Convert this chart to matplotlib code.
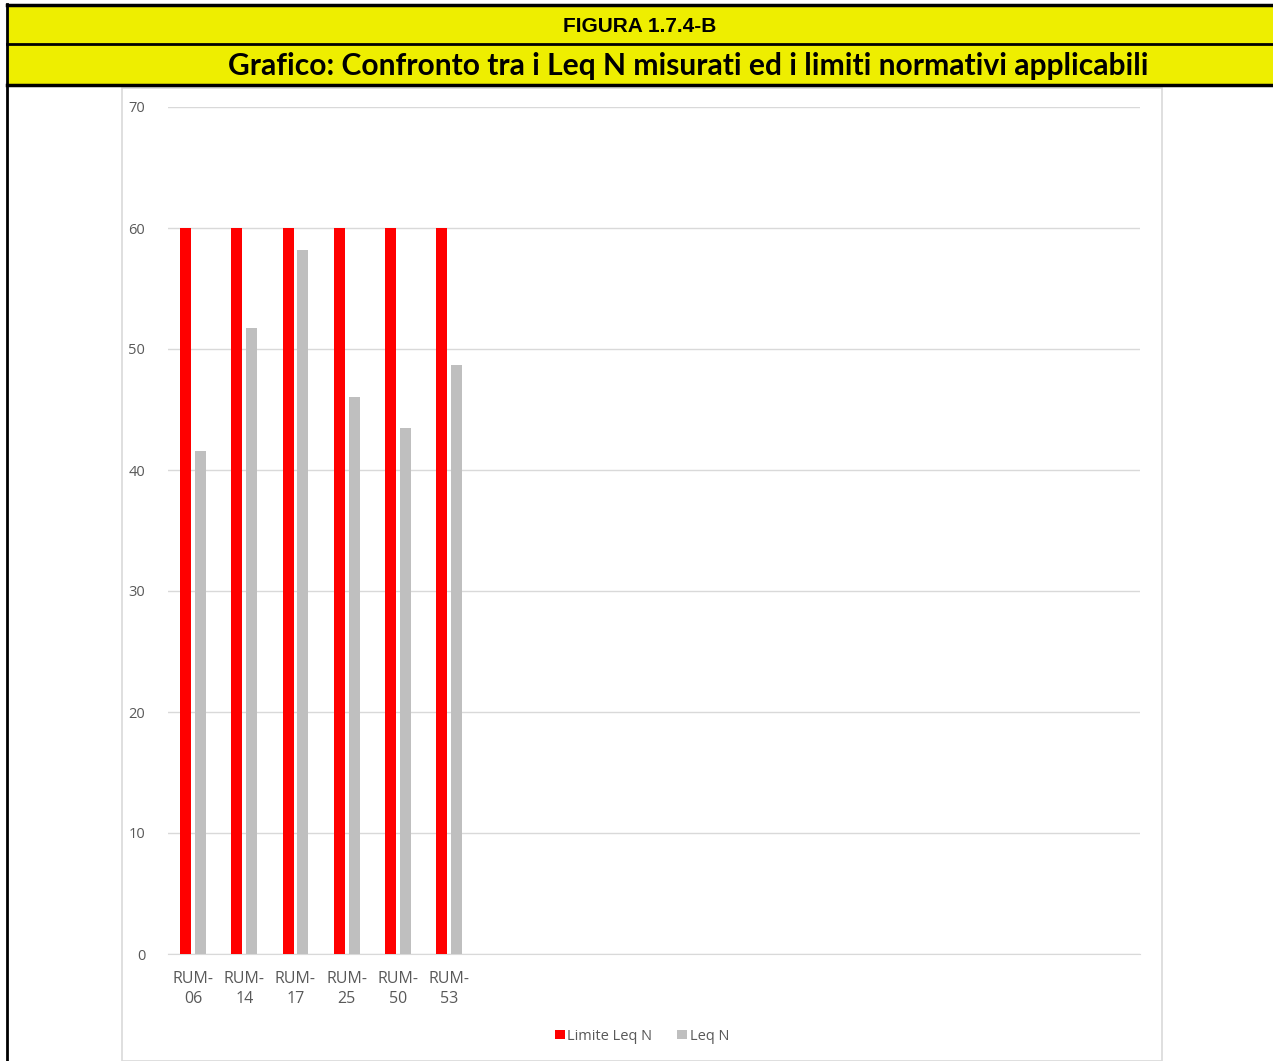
import matplotlib.pyplot as plt
from matplotlib.patches import Rectangle
from matplotlib.lines import Line2D
import numpy as np

# dati
stazioni = ['RUM-\n06', 'RUM-\n14', 'RUM-\n17', 'RUM-\n25', 'RUM-\n50', 'RUM-\n53']
limite_leq_n = [60, 60, 60, 60, 60, 60]
leq_n = [41.6, 51.7, 58.2, 46.0, 43.5, 48.7]
n_slot = 19  # il grafico originale riserva 19 categorie (molte vuote)

W, H = 1273, 1061
fig = plt.figure(figsize=(W / 100, H / 100), dpi=100)
fig.patch.set_facecolor('white')

def fx(px):
    return px / W

def fy(py):
    return 1 - py / H

# --- intestazione gialla ---
giallo = '#EEEE00'
fig.patches.append(Rectangle((fx(7), fy(85)), 1 - fx(7), fy(5) - fy(85),
                             transform=fig.transFigure, facecolor=giallo,
                             edgecolor='none', zorder=0))
for y, lw in [(5, 2.5), (44, 2), (85, 2.5)]:
    fig.lines.append(Line2D([fx(7), 1], [fy(y), fy(y)], transform=fig.transFigure,
                            color='black', linewidth=lw))
fig.lines.append(Line2D([fx(7), fx(7)], [fy(4), 0], transform=fig.transFigure,
                        color='black', linewidth=2))

fig.text(fx(640), fy(26), 'FIGURA 1.7.4-B', ha='center', va='center',
         fontsize=15, fontweight='bold', family='Liberation Sans')
fig.text(fx(688), fy(66), 'Grafico: Confronto tra i Leq N misurati ed i limiti normativi applicabili',
         ha='center', va='center', fontsize=21.6, fontweight='bold', family='Lato')

# riquadro del grafico
fig.patches.append(Rectangle((fx(122), 0), fx(1162) - fx(122), fy(88),
                             transform=fig.transFigure, facecolor='white',
                             edgecolor='#d9d9d9', linewidth=1.2, zorder=1))

# --- grafico ---
ax = fig.add_axes([fx(167.5), fy(954), fx(1140) - fx(167.5), fy(107) - fy(954)])
ax.set_zorder(2)
ax.patch.set_alpha(0)

x = np.arange(len(stazioni))
w = 0.215
off = 0.145
ax.bar(x - off, limite_leq_n, width=w, color='#FF0000', label='Limite Leq N', zorder=3)
ax.bar(x + off, leq_n, width=w, color='#BFBFBF', label='Leq N', zorder=3)

ax.set_xlim(-0.5, n_slot - 0.5)
ax.set_ylim(0, 70)
ax.set_yticks(range(0, 71, 10))
ax.yaxis.grid(True, color='#d9d9d9', linewidth=1)
ax.set_axisbelow(True)
for s in ['top', 'right', 'left']:
    ax.spines[s].set_visible(False)
ax.spines['bottom'].set_color('#d9d9d9')
ax.tick_params(axis='both', length=0, colors='#595959')
ax.tick_params(axis='y', pad=16, labelsize=10.5)
ax.tick_params(axis='x', pad=12, labelsize=11.5)
ax.set_xticks(x)
ax.set_xticklabels(stazioni, linespacing=1.4)
for t in ax.get_xticklabels() + ax.get_yticklabels():
    t.set_family('Open Sans')

leg = ax.legend(loc='center', bbox_to_anchor=(fx(642), fy(1036)),
                bbox_transform=fig.transFigure, ncol=2, frameon=False,
                handlelength=0.65, handleheight=0.65, handletextpad=0.2,
                columnspacing=1.7, fontsize=10.5)
for t in leg.get_texts():
    t.set_color('#595959')
    t.set_family('Open Sans')

fig.savefig('out.png', dpi=100)
